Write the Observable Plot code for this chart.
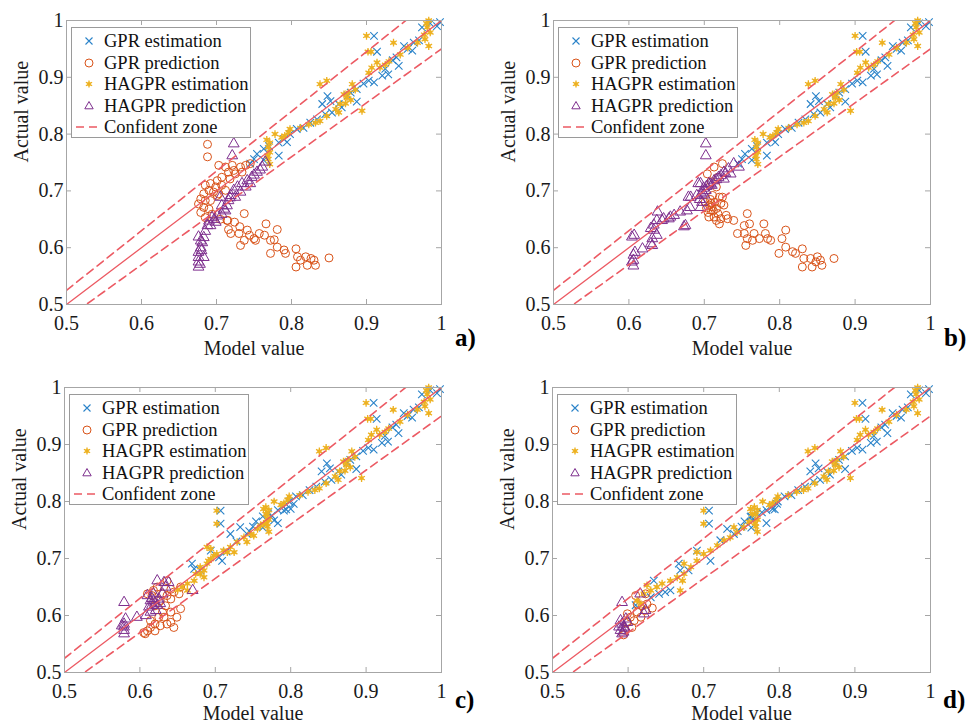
<!DOCTYPE html>
<html><head><meta charset="utf-8">
<script src="https://cdn.jsdelivr.net/npm/d3@7"></script>
<script src="https://cdn.jsdelivr.net/npm/@observablehq/plot@0.6"></script>
<style>
body{margin:0;background:#fff;}
#root{position:relative;width:969px;height:724px;overflow:hidden;font-family:"Liberation Serif","Times New Roman",serif;background:#fff;}
.panel{position:absolute;}
.legend{position:absolute;background:#fff;border:1px solid #9a9a9a;box-sizing:border-box;width:180px;height:111px;}
.lrow{position:absolute;left:0;height:22px;width:178px;}
.lrow svg{position:absolute;left:0;top:0;}
.lrow span{position:absolute;left:32px;top:0;line-height:22px;font-size:18.5px;color:#111;white-space:nowrap;}
.tag{position:absolute;font-weight:bold;font-size:25px;line-height:28px;color:#000;}
</style></head><body><div id="root"></div>
<script>
// ---------- data ----------
const ticks = [0.5, 0.6, 0.7, 0.8, 0.9, 1];
const refX = [0.5, 1];
const zone = 0.05;
const legendLabels = ["GPR estimation", "GPR prediction", "HAGPR estimation", "HAGPR prediction", "Confident zone"];
const panelTags = ["a)", "b)", "c)", "d)"];
const xLabel = "Model value";
const yLabel = "Actual value";

const gprEstShared = [[0.994,0.99],[0.998,0.997],[0.974,0.988],[0.985,0.995],[0.91,0.973],[0.914,0.945],[0.95,0.955],[0.963,0.961],[0.961,0.947],[0.955,0.95],[0.943,0.92],[0.935,0.93],[0.929,0.905],[0.921,0.903],[0.903,0.894],[0.91,0.891],[0.896,0.889],[0.887,0.879],[0.887,0.857],[0.879,0.873],[0.848,0.867],[0.841,0.853],[0.852,0.858],[0.863,0.853],[0.867,0.847],[0.854,0.838],[0.845,0.835],[0.834,0.826],[0.825,0.82],[0.816,0.811],[0.807,0.809],[0.798,0.8],[0.79,0.791],[0.794,0.786],[0.783,0.785],[0.783,0.762],[0.77,0.779],[0.763,0.774],[0.754,0.765],[0.75,0.756],[0.745,0.748],[0.763,0.754],[0.925,0.915],[0.94,0.935],[0.97,0.965],[0.875,0.868]];
const hagprEstShared = [[0.983,1.0],[0.981,0.988],[0.985,0.979],[0.978,0.967],[0.983,0.955],[0.968,0.961],[0.98,0.995],[0.977,0.975],[0.9,0.973],[0.902,0.945],[0.906,0.945],[0.936,0.961],[0.914,0.926],[0.907,0.917],[0.903,0.908],[0.918,0.917],[0.925,0.922],[0.93,0.928],[0.945,0.94],[0.955,0.952],[0.881,0.888],[0.876,0.873],[0.874,0.864],[0.879,0.86],[0.872,0.854],[0.865,0.853],[0.838,0.888],[0.847,0.894],[0.894,0.841],[0.863,0.838],[0.859,0.844],[0.847,0.832],[0.838,0.823],[0.832,0.82],[0.823,0.817],[0.812,0.811],[0.798,0.809],[0.796,0.803],[0.791,0.797],[0.787,0.794],[0.771,0.785],[0.769,0.777],[0.771,0.768],[0.769,0.756],[0.771,0.747],[0.767,0.79],[0.778,0.8],[0.768,0.762],[0.87,0.87],[0.885,0.878]];

const gprEstLowC = [[0.707,0.784],[0.707,0.761],[0.694,0.714],[0.709,0.696],[0.705,0.702],[0.72,0.743],[0.733,0.755],[0.742,0.743],[0.669,0.691],[0.672,0.682],[0.68,0.679],[0.775,0.775],[0.778,0.767],[0.791,0.784],[0.8,0.787],[0.804,0.796],[0.728,0.73],[0.715,0.712]];
const hagprEstLowC = [[0.702,0.784],[0.702,0.761],[0.656,0.65],[0.663,0.656],[0.672,0.661],[0.68,0.673],[0.685,0.679],[0.689,0.691],[0.694,0.699],[0.702,0.708],[0.711,0.714],[0.72,0.72],[0.729,0.729],[0.738,0.737],[0.747,0.743],[0.756,0.752],[0.764,0.761],[0.767,0.778],[0.764,0.787],[0.769,0.77],[0.689,0.72],[0.698,0.705],[0.68,0.685],[0.674,0.673],[0.663,0.644],[0.685,0.667],[0.725,0.711],[0.742,0.729],[0.751,0.74],[0.716,0.711],[0.691,0.696],[0.694,0.717],[0.65,0.645],[0.76,0.758]];
const gprEstLowD = [[0.707,0.784],[0.707,0.761],[0.691,0.714],[0.709,0.696],[0.667,0.691],[0.669,0.679],[0.68,0.679],[0.634,0.661],[0.641,0.638],[0.63,0.632],[0.656,0.644],[0.649,0.641],[0.61,0.618],[0.731,0.752],[0.74,0.743],[0.722,0.732],[0.762,0.773],[0.764,0.767],[0.777,0.781],[0.791,0.787],[0.797,0.796]];
const hagprEstLowD = [[0.7,0.784],[0.7,0.761],[0.612,0.626],[0.621,0.638],[0.63,0.644],[0.638,0.65],[0.645,0.656],[0.656,0.661],[0.665,0.667],[0.674,0.673],[0.683,0.685],[0.674,0.691],[0.691,0.696],[0.7,0.708],[0.709,0.714],[0.718,0.723],[0.727,0.732],[0.735,0.737],[0.744,0.746],[0.753,0.755],[0.76,0.764],[0.762,0.787],[0.764,0.778],[0.669,0.644],[0.672,0.661],[0.691,0.711],[0.74,0.755],[0.625,0.653],[0.617,0.62]];

const gprPredA = [[0.688,0.782],[0.688,0.76],[0.703,0.745],[0.712,0.742],[0.721,0.745],[0.732,0.742],[0.739,0.745],[0.716,0.733],[0.725,0.73],[0.734,0.733],[0.707,0.724],[0.718,0.721],[0.701,0.718],[0.692,0.713],[0.699,0.707],[0.707,0.71],[0.685,0.71],[0.69,0.701],[0.696,0.698],[0.703,0.695],[0.683,0.695],[0.679,0.686],[0.685,0.683],[0.692,0.683],[0.676,0.677],[0.683,0.671],[0.69,0.668],[0.679,0.662],[0.694,0.659],[0.685,0.653],[0.705,0.65],[0.714,0.648],[0.701,0.692],[0.712,0.701],[0.723,0.736],[0.745,0.748],[0.716,0.632],[0.719,0.625],[0.715,0.648],[0.731,0.637],[0.737,0.66],[0.73,0.625],[0.732,0.604],[0.737,0.613],[0.744,0.622],[0.75,0.616],[0.741,0.631],[0.757,0.625],[0.764,0.622],[0.752,0.613],[0.766,0.642],[0.772,0.613],[0.777,0.614],[0.781,0.632],[0.781,0.601],[0.772,0.59],[0.79,0.596],[0.792,0.59],[0.806,0.598],[0.808,0.584],[0.806,0.566],[0.821,0.569],[0.812,0.578],[0.826,0.581],[0.83,0.578],[0.832,0.569],[0.819,0.584],[0.85,0.582],[0.724,0.645]];
const hagprPredA = [[0.723,0.783],[0.721,0.762],[0.676,0.566],[0.676,0.575],[0.676,0.583],[0.676,0.592],[0.679,0.6],[0.681,0.609],[0.676,0.619],[0.683,0.618],[0.685,0.629],[0.688,0.639],[0.69,0.647],[0.694,0.653],[0.701,0.656],[0.707,0.659],[0.712,0.665],[0.714,0.674],[0.716,0.683],[0.719,0.692],[0.723,0.701],[0.728,0.707],[0.734,0.713],[0.741,0.718],[0.747,0.724],[0.754,0.733],[0.761,0.742],[0.765,0.751],[0.705,0.689],[0.707,0.674],[0.699,0.645],[0.692,0.639],[0.683,0.583],[0.679,0.612],[0.725,0.689],[0.732,0.698],[0.739,0.707],[0.745,0.713],[0.678,0.571],[0.68,0.595],[0.697,0.65],[0.71,0.668],[0.718,0.688],[0.75,0.728],[0.758,0.737]];
const gprPredB = [[0.713,0.742],[0.724,0.748],[0.704,0.73],[0.718,0.724],[0.709,0.716],[0.716,0.707],[0.711,0.692],[0.72,0.689],[0.709,0.678],[0.716,0.669],[0.722,0.678],[0.726,0.675],[0.709,0.666],[0.706,0.654],[0.713,0.654],[0.722,0.651],[0.716,0.648],[0.72,0.642],[0.731,0.651],[0.739,0.648],[0.729,0.657],[0.724,0.689],[0.757,0.66],[0.753,0.639],[0.76,0.642],[0.744,0.625],[0.753,0.625],[0.757,0.616],[0.755,0.604],[0.766,0.625],[0.764,0.613],[0.773,0.616],[0.779,0.642],[0.781,0.625],[0.784,0.616],[0.788,0.613],[0.803,0.616],[0.808,0.631],[0.808,0.601],[0.799,0.59],[0.817,0.593],[0.821,0.59],[0.83,0.598],[0.832,0.581],[0.841,0.581],[0.83,0.566],[0.843,0.566],[0.85,0.584],[0.854,0.578],[0.856,0.569],[0.872,0.581],[0.848,0.575],[0.703,0.67],[0.707,0.675],[0.712,0.665],[0.701,0.68],[0.705,0.662],[0.71,0.672],[0.714,0.68],[0.708,0.685],[0.718,0.66]];
const hagprPredB = [[0.702,0.783],[0.702,0.762],[0.604,0.619],[0.606,0.587],[0.606,0.578],[0.606,0.568],[0.608,0.592],[0.604,0.575],[0.618,0.598],[0.629,0.607],[0.631,0.616],[0.633,0.631],[0.629,0.634],[0.637,0.622],[0.631,0.604],[0.637,0.648],[0.646,0.651],[0.653,0.651],[0.66,0.657],[0.668,0.663],[0.675,0.639],[0.677,0.665],[0.681,0.671],[0.679,0.689],[0.692,0.713],[0.69,0.692],[0.697,0.68],[0.695,0.671],[0.702,0.701],[0.706,0.713],[0.713,0.718],[0.719,0.724],[0.726,0.733],[0.732,0.739],[0.739,0.748],[0.746,0.742],[0.735,0.73],[0.726,0.721],[0.633,0.64],[0.644,0.648],[0.655,0.654],[0.638,0.663],[0.607,0.622],[0.673,0.637],[0.695,0.713],[0.682,0.689],[0.696,0.695],[0.699,0.705],[0.71,0.71],[0.698,0.698],[0.703,0.708],[0.708,0.712],[0.716,0.72],[0.722,0.727],[0.728,0.731],[0.694,0.685],[0.7,0.693]];
const gprPredC = [[0.636,0.661],[0.641,0.646],[0.63,0.638],[0.636,0.635],[0.645,0.641],[0.654,0.65],[0.641,0.629],[0.627,0.626],[0.62,0.617],[0.634,0.617],[0.63,0.606],[0.641,0.606],[0.625,0.597],[0.614,0.591],[0.62,0.585],[0.627,0.582],[0.614,0.579],[0.62,0.573],[0.61,0.573],[0.605,0.57],[0.636,0.585],[0.645,0.579],[0.654,0.612],[0.623,0.65],[0.616,0.635],[0.632,0.597],[0.641,0.588],[0.652,0.638],[0.649,0.597],[0.61,0.638],[0.618,0.644],[0.607,0.568]];
const hagprPredC = [[0.579,0.623],[0.581,0.594],[0.579,0.585],[0.579,0.58],[0.579,0.574],[0.579,0.568],[0.576,0.582],[0.596,0.597],[0.61,0.635],[0.623,0.661],[0.618,0.638],[0.614,0.626],[0.616,0.618],[0.623,0.618],[0.621,0.609],[0.614,0.606],[0.63,0.638],[0.634,0.65],[0.638,0.658],[0.632,0.658],[0.67,0.644],[0.627,0.621],[0.612,0.615],[0.618,0.626],[0.625,0.629],[0.62,0.622],[0.616,0.63],[0.608,0.6]];
const gprPredD = [[0.61,0.635],[0.619,0.617],[0.632,0.613],[0.623,0.609],[0.612,0.606],[0.603,0.597],[0.608,0.591],[0.599,0.588],[0.605,0.579],[0.596,0.574],[0.617,0.597],[0.625,0.62],[0.623,0.638],[0.612,0.62],[0.599,0.603],[0.594,0.566]];
const hagprPredD = [[0.592,0.623],[0.616,0.638],[0.621,0.603],[0.623,0.609],[0.59,0.591],[0.592,0.585],[0.594,0.58],[0.59,0.574],[0.592,0.568],[0.597,0.594],[0.599,0.588],[0.588,0.58],[0.594,0.571],[0.596,0.578]];

// ---------- styling / layout ----------
const C = {blue: "#2a83c9", orange: "#D95319", yellow: "#EDB120", purple: "#7E2F8E", red: "#ec5a63", box: "#a6a6a6", text: "#1a1a1a"};
const fmt = d3.format("~g");
const layout = [
  {left: 0,   top: 0,   width: 480, height: 360, ml: 66, mr: 39, mt: 20, mb: 56, xl: 50, tagX: 455, tagY: 324},
  {left: 480, top: 0,   width: 489, height: 360, ml: 73, mr: 39, mt: 20, mb: 56, xl: 50, tagX: 944, tagY: 324},
  {left: 0,   top: 360, width: 480, height: 364, ml: 64, mr: 39, mt: 27, mb: 52, xl: 47, tagX: 455, tagY: 686},
  {left: 480, top: 360, width: 489, height: 364, ml: 72, mr: 39, mt: 27, mb: 52, xl: 47, tagX: 943, tagY: 686}
];
const series = [
  {gprEst: gprEstShared, hagprEst: hagprEstShared, gprPred: gprPredA, hagprPred: hagprPredA},
  {gprEst: gprEstShared, hagprEst: hagprEstShared, gprPred: gprPredB, hagprPred: hagprPredB},
  {gprEst: gprEstShared.concat(gprEstLowC), hagprEst: hagprEstShared.concat(hagprEstLowC), gprPred: gprPredC, hagprPred: hagprPredC},
  {gprEst: gprEstShared.concat(gprEstLowD), hagprEst: hagprEstShared.concat(hagprEstLowD), gprPred: gprPredD, hagprPred: hagprPredD}
];

const px = d => d[0], py = d => d[1];

function makePanel(g, s) {
  const W = g.width - g.ml - g.mr, H = g.height - g.mt - g.mb;
  return Plot.plot({
    width: g.width, height: g.height,
    marginLeft: g.ml, marginRight: g.mr, marginTop: g.mt, marginBottom: g.mb,
    style: {fontFamily: "'Liberation Serif', serif", fontSize: "20px", color: C.text, background: "transparent", overflow: "visible"},
    x: {domain: [0.5, 1]},
    y: {domain: [0.5, 1]},
    marks: [
      Plot.dot(s.gprEst, {x: px, y: py, symbol: "times", stroke: C.blue, r: 3.5, strokeWidth: 1.1}),
      Plot.dot(s.gprPred, {x: px, y: py, symbol: "circle", stroke: C.orange, fill: "none", r: 4, strokeWidth: 1}),
      Plot.dot(s.hagprEst, {x: px, y: py, symbol: "circle", fill: C.yellow, fillOpacity: 0.75, r: 2.2}),
      Plot.dot(s.hagprEst, {x: px, y: py, symbol: "asterisk", stroke: C.yellow, r: 3.6, strokeWidth: 1.3}),
      Plot.dot(s.hagprPred, {x: px, y: py, symbol: "triangle", stroke: C.purple, fill: "none", r: 4, strokeWidth: 1}),
      Plot.line(refX, {x: d => d, y: d => d, stroke: C.red, strokeWidth: 1.3, clip: true}),
      Plot.line(refX, {x: d => d, y: d => d * (1 + zone), stroke: C.red, strokeWidth: 1.6, strokeDasharray: "8,5", clip: true}),
      Plot.line(refX, {x: d => d, y: d => d * (1 - zone), stroke: C.red, strokeWidth: 1.6, strokeDasharray: "8,5", clip: true}),
      Plot.frame({stroke: C.box}),
      Plot.tickX(ticks, {x: d => d, insetTop: H - 5, stroke: C.box}),
      Plot.tickX(ticks, {x: d => d, insetBottom: H - 5, stroke: C.box}),
      Plot.tickY(ticks, {y: d => d, insetRight: W - 5, stroke: C.box}),
      Plot.tickY(ticks, {y: d => d, insetLeft: W - 5, stroke: C.box}),
      Plot.axisX(ticks, {tickSize: 0, tickPadding: 11, tickFormat: fmt, label: null, fontSize: 20, fill: C.text}),
      Plot.axisY(ticks, {tickSize: 0, tickPadding: 3, tickFormat: fmt, label: null, fontSize: 20, fill: C.text}),
      Plot.text([xLabel], {text: d => d, frameAnchor: "bottom", dy: g.xl, fontSize: 20, fill: C.text}),
      Plot.text([yLabel], {text: d => d, frameAnchor: "left", dx: -45, rotate: -90, fontSize: 20, fill: C.text})
    ]
  });
}

function legendSymbol(i) {
  const cx = 17, cy = 11;
  if (i === 0) return `<path d="M${cx-3.5},${cy-3.5}L${cx+3.5},${cy+3.5}M${cx-3.5},${cy+3.5}L${cx+3.5},${cy-3.5}" stroke="${C.blue}" stroke-width="1.1" fill="none"/>`;
  if (i === 1) return `<circle cx="${cx}" cy="${cy}" r="4" stroke="${C.orange}" fill="none"/>`;
  if (i === 2) return `<circle cx="${cx}" cy="${cy}" r="2.2" fill="${C.yellow}" fill-opacity="0.75"/><path d="M${cx},${cy-3.6}V${cy+3.6}M${cx-3.1},${cy-1.8}L${cx+3.1},${cy+1.8}M${cx-3.1},${cy+1.8}L${cx+3.1},${cy-1.8}" stroke="${C.yellow}" stroke-width="1.3"/>`;
  if (i === 3) return `<path d="M${cx},${cy-4.5}L${cx+4.2},${cy+2.8}L${cx-4.2},${cy+2.8}Z" stroke="${C.purple}" fill="none"/>`;
  return `<line x1="4" x2="28" y1="${cy}" y2="${cy}" stroke="${C.red}" stroke-width="1.6" stroke-dasharray="8,5"/>`;
}

const root = document.getElementById("root");
layout.forEach((g, k) => {
  const wrap = document.createElement("div");
  wrap.className = "panel";
  wrap.style.left = g.left + "px";
  wrap.style.top = g.top + "px";
  wrap.appendChild(makePanel(g, series[k]));
  root.appendChild(wrap);

  const lg = document.createElement("div");
  lg.className = "legend";
  lg.style.left = (g.left + g.ml + 5) + "px";
  lg.style.top = (g.top + g.mt + 7) + "px";
  legendLabels.forEach((lab, i) => {
    const row = document.createElement("div");
    row.className = "lrow";
    row.style.top = (2 + i * 21.5) + "px";
    row.innerHTML = `<svg width="32" height="22">${legendSymbol(i)}</svg><span>${lab}</span>`;
    lg.appendChild(row);
  });
  root.appendChild(lg);

  const tag = document.createElement("div");
  tag.className = "tag";
  tag.style.left = g.tagX + "px";
  tag.style.top = g.tagY + "px";
  tag.textContent = panelTags[k];
  root.appendChild(tag);
});
</script></body></html>
